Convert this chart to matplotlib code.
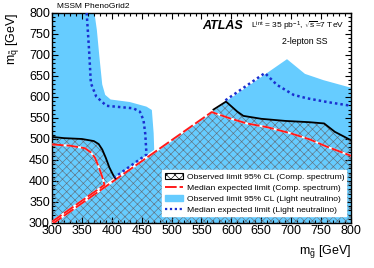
import matplotlib.pyplot as plt
from matplotlib.patches import Patch
from matplotlib.lines import Line2D

plt.rcParams['font.family'] = ['Liberation Sans', 'DejaVu Sans']
plt.rcParams['mathtext.fontset'] = 'custom'
plt.rcParams['mathtext.rm'] = 'Liberation Sans'
plt.rcParams['mathtext.it'] = 'Liberation Sans:italic'
plt.rcParams['mathtext.bf'] = 'Liberation Sans:bold'
plt.rcParams['hatch.linewidth'] = 0.45

# observed limit 95% CL, comp. spectrum (black), left and right pieces
obs_comp_left_mg = [300, 320, 350, 370, 378, 384, 390, 396, 402, 406]
obs_comp_left_mq = [505, 502, 500, 495, 488, 475, 455, 432, 415, 406]
obs_comp_right_mg = [570, 591, 610, 620, 650, 690, 730, 755, 773, 800]
obs_comp_right_mq = [570, 589, 565, 555, 548, 543, 540, 537, 517, 497]

# median expected limit, comp. spectrum (red)
exp_comp_left_mg = [300, 330, 355, 365, 372, 378, 384, 388]
exp_comp_left_mq = [487, 484, 478, 468, 455, 434, 410, 390]
exp_comp_diag_mg = [300, 388]
exp_comp_right_mg = [300, 567, 600, 626, 660, 698, 731, 759, 800]
exp_comp_right_mq = [297, 564, 548, 537, 528, 514, 499, 482, 460]

# observed limit 95% CL, light neutralino (blue area)
obs_light_left_mg = [371, 375, 379, 384, 389, 398, 430, 458, 467, 470, 471]
obs_light_left_mq = [800, 760, 700, 630, 605, 594, 588, 577, 569, 514, 471]
obs_light_right_mg = [693, 723, 754, 800]
obs_light_right_mq = [690, 655, 640, 622]

# median expected limit, light neutralino (blue dotted)
exp_light_left_mg = [358, 362, 365, 374, 391, 436, 447, 453, 456, 458, 405]
exp_light_left_mq = [800, 712, 633, 601, 579, 573, 565, 545, 512, 463, 409]
exp_light_right_mg = [590, 656, 676, 704, 726, 760, 800]
exp_light_right_mq = [592, 657, 629, 605, 597, 588, 579]

diag = [300, 591]

blue = '#66ccff'
red = '#ff1a1a'
dblue = '#1a2fd0'

fig = plt.figure(figsize=(3.74, 2.68), dpi=100)
ax = fig.add_axes([0.139, 0.168, 0.7995, 0.7836])

# blue area
bx = obs_light_left_mg + obs_light_right_mg + [800, 300, 300]
by = obs_light_left_mq + obs_light_right_mq + [300, 300, 800]
ax.fill(bx, by, color=blue, lw=0, zorder=1)

# hatched area
hx = obs_comp_left_mg + obs_comp_right_mg + [800, 300]
hy = obs_comp_left_mq + obs_comp_right_mq + [300, 300]
ax.fill(hx, hy, facecolor='none', edgecolor='#62717e', lw=0, hatch='xxxx', zorder=2)

ax.plot(diag, diag, color='white', lw=1.6, zorder=3)

# red dashed lines (white underneath)
def red_line(x, y):
    ax.plot(x, y, color='white', lw=1.4, zorder=4)
    ax.plot(x, y, color=red, lw=1.4, dashes=(6, 1.5), zorder=5)

red_line(exp_comp_left_mg, exp_comp_left_mq)
red_line(exp_comp_diag_mg, [m + 3 for m in exp_comp_diag_mg])
red_line(exp_comp_right_mg, exp_comp_right_mq)

ax.plot(obs_comp_left_mg, obs_comp_left_mq, color='black', lw=1.3, zorder=6)
ax.plot(obs_comp_right_mg, obs_comp_right_mq, color='black', lw=1.3, zorder=6)

ax.plot(exp_light_left_mg, exp_light_left_mq, color=dblue, lw=1.8, ls=(0, (1, 1.2)), zorder=6)
ax.plot(exp_light_right_mg, exp_light_right_mq, color=dblue, lw=1.8, ls=(0, (1, 1.2)), zorder=6)

ax.set_xlim(300, 800)
ax.set_ylim(300, 800)
ax.set_xticks(range(300, 801, 50))
ax.set_yticks(range(300, 801, 50))
ax.set_xticks(range(300, 801, 10), minor=True)
ax.set_yticks(range(300, 801, 10), minor=True)
ax.tick_params(which='both', direction='in', top=True, right=True, labelsize=9, pad=1.5)
ax.tick_params(which='major', length=4.5, width=0.8)
ax.tick_params(which='minor', length=2.5, width=0.8)
for sp in ax.spines.values():
    sp.set_linewidth(1.0)

ax.set_xlabel(r'm$_{\tilde{\mathrm{g}}}$ [GeV]', fontsize=9, loc='right', labelpad=4)
ax.set_ylabel(r'm$_{\tilde{\mathrm{q}}}$ [GeV]', fontsize=9, loc='top', labelpad=6)

fig.text(57 / 374, 1 - 7 / 268, 'MSSM PhenoGrid2', fontsize=6, va='center', ha='left')
fig.text(202 / 374, 1 - 26 / 268, 'ATLAS', fontsize=9, fontweight='bold', style='italic',
         va='center', ha='left')
fig.text(251 / 374, 1 - 26 / 268, r'L$^{\mathrm{int}}$ = 35 pb$^{-1}$, $\sqrt{\mathrm{s}}$=7 TeV',
         fontsize=6, va='center', ha='left')
fig.text(282 / 374, 1 - 42 / 268, '2-lepton SS', fontsize=6.3, va='center', ha='left')

handles = [
    Patch(facecolor='white', edgecolor='black', hatch='xxxx', lw=0.8),
    Line2D([], [], color=red, lw=1.4, dashes=(6, 1.5, 2, 1.5)),
    Patch(facecolor=blue, edgecolor=blue),
    Line2D([], [], color=dblue, lw=1.6, ls=(0, (1, 1.2))),
]
labels = [
    'Observed limit 95% CL (Comp. spectrum)',
    'Median expected limit (Comp. spectrum)',
    'Observed limit 95% CL (Light neutralino)',
    'Median expected limit (Light neutralino)',
]
leg = ax.legend(handles, labels, loc='lower left', bbox_to_anchor=(0.368, 0.033, 0.615, 0.229),
                mode='expand', fontsize=6.1, frameon=True, fancybox=False, framealpha=1,
                edgecolor='white', borderpad=0.3, labelspacing=0.35, handlelength=2.2,
                handletextpad=0.5, borderaxespad=0)
leg.set_zorder(10)

fig.savefig('out.png', dpi=100)
